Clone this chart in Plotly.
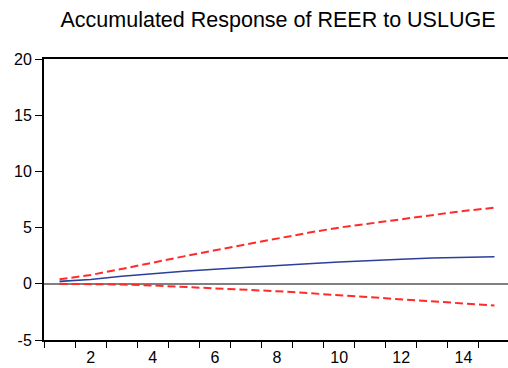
import plotly.graph_objects as go

# Impulse-response horizon (periods)
periods = list(range(1, 16))

# Accumulated response and +/- 2 S.E. bands
response = [0.22, 0.38, 0.67, 0.90, 1.11, 1.29, 1.47, 1.64, 1.79, 1.94, 2.08, 2.19, 2.29, 2.36, 2.41]
upper_band = [0.40, 0.78, 1.32, 1.90, 2.44, 2.98, 3.52, 4.04, 4.54, 5.00, 5.38, 5.77, 6.13, 6.48, 6.77]
lower_band = [0.00, -0.02, -0.06, -0.15, -0.27, -0.38, -0.50, -0.66, -0.83, -1.01, -1.20, -1.40, -1.59, -1.77, -1.93]

x_labels = [2, 4, 6, 8, 10, 12, 14]
y_ticks = [-5, 0, 5, 10, 15, 20]
y_ticktext = ["-5", "0", "5", "10", "15", "20"]
period_edges = [p - 0.5 for p in range(1, 17)]

title_text = "Accumulated Response of REER to USLUGE"

font_family = "Arial, Liberation Sans, sans-serif"

fig = go.Figure()

fig.add_trace(go.Scatter(
    x=periods, y=upper_band, mode="lines",
    line=dict(color="#ff2a2a", width=2, dash="8px,4px"),
    showlegend=False, hoverinfo="skip",
))
fig.add_trace(go.Scatter(
    x=periods, y=lower_band, mode="lines",
    line=dict(color="#ff2a2a", width=2, dash="8px,4px"),
    showlegend=False, hoverinfo="skip",
))
fig.add_trace(go.Scatter(
    x=periods, y=response, mode="lines",
    line=dict(color="#2b3f9b", width=1.6),
    showlegend=False, hoverinfo="skip",
))

fig.update_layout(
    width=508, height=368,
    margin=dict(l=44, r=0, t=59, b=28),
    paper_bgcolor="white", plot_bgcolor="white",
    font=dict(family=font_family, color="black", size=16),
    title=dict(
        text=title_text,
        x=278 / 508, xref="container", xanchor="center",
        y=1 - 19 / 368, yref="container", yanchor="middle",
        font=dict(family=font_family, size=21.5, color="black"),
    ),
    xaxis=dict(
        range=[0.5, 15.436],
        tickmode="array", tickvals=x_labels, ticktext=[str(v) for v in x_labels],
        ticks="", showgrid=False, zeroline=False,
        showline=True, linecolor="black", linewidth=2, mirror=True,
        tickfont=dict(size=16), ticklabelstandoff=2,
        minor=dict(tickmode="array", tickvals=period_edges, ticks="outside",
                   ticklen=6, tickwidth=1, tickcolor="black", showgrid=False),
    ),
    yaxis=dict(
        range=[-5, 20],
        tickmode="array", tickvals=y_ticks, ticktext=y_ticktext,
        ticks="outside", ticklen=7, tickwidth=1, tickcolor="black",
        showgrid=False,
        zeroline=True, zerolinecolor="#808080", zerolinewidth=1.5,
        showline=True, linecolor="black", linewidth=2, mirror=False,
        tickfont=dict(size=16),
    ),
)

fig.write_html("out.html")
